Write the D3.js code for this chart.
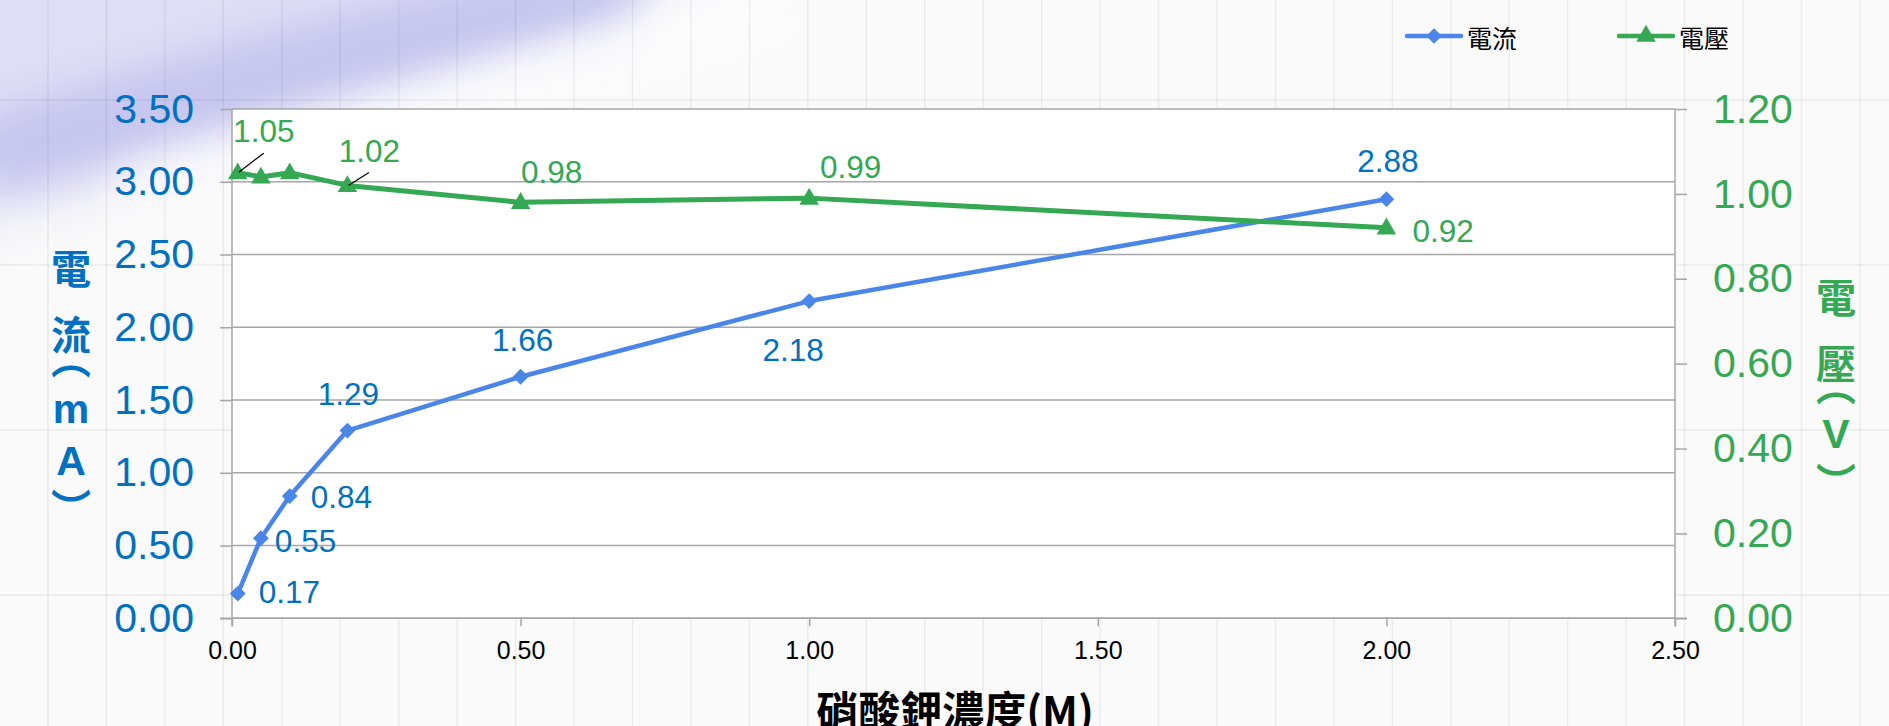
<!DOCTYPE html>
<html>
<head>
<meta charset="utf-8">
<script src="https://cdn.jsdelivr.net/npm/d3@7"></script>
<style>
  html, body { margin: 0; padding: 0; background: #fafafa; }
  svg { display: block; }
</style>
</head>
<body>
<svg id="chart" width="1889" height="726"></svg>
<script>
// ---------- data ----------
const concentrations = [0.01, 0.05, 0.1, 0.2, 0.5, 1.0, 2.0];
const currentValues  = [0.17, 0.55, 0.84, 1.29, 1.66, 2.18, 2.88];
const voltageValues  = [1.05, 1.04, 1.05, 1.02, 0.98, 0.99, 0.92];
const voltageLabelShown = [true, false, false, true, true, true, true];
const xTickValues     = [0, 0.5, 1.0, 1.5, 2.0, 2.5];
const currentTicks    = [0, 0.5, 1.0, 1.5, 2.0, 2.5, 3.0, 3.5];
const voltageTicks    = [0, 0.2, 0.4, 0.6, 0.8, 1.0, 1.2];
const seriesNames     = ["電流", "電壓"];
const xTitle = "硝酸鉀濃度(M)";
const leftTitleChars  = ["電", "流", "︵", "m", "A", "︶"];
const rightTitleChars = ["電", "壓", "︵", "V", "︶"];

// ---------- layout / style ----------
const W = 1889, H = 726;
const plot = { left: 232, right: 1675, top: 109, bottom: 618.3 };
const BLUE_LINE = "#4a86e8", BLUE_TEXT = "#0070c0", GREEN = "#34a853";
const GRID = "#a6a6a6";

// label placement (offsets from the point), [dx, dy, anchor]
const currentLabelPos = [[21, -2, "start"], [14, 3, "start"], [21, 1, "start"], [1, -37, "middle"], [2, -37, "middle"], [-16, 49, "middle"], [1.5, -38, "middle"]];
const voltageLabelPos = [[26, -41.5, "middle"], null, null, [22, -34, "middle"], [31, -30, "middle"], [41.5, -31.5, "middle"], [56.7, 3, "middle"]];
const voltageLeaders  = [[1, -0.5, 26, -19.5], null, null, [1, 0, 21.5, -13], null, null, null];
const leftTitleY  = [267, 333, 357, 409, 461, 506];
const rightTitleY = [296, 362, 384, 434, 480];

const svg = d3.select("#chart");
const defs = svg.append("defs");

// ---------- background (spreadsheet + purple blur) ----------
svg.append("rect").attr("width", W).attr("height", H).attr("fill", "#fafafa");

const f1 = defs.append("filter").attr("id", "blur1").attr("x", "-50%").attr("y", "-50%").attr("width", "200%").attr("height", "200%");
f1.append("feGaussianBlur").attr("stdDeviation", 30);
const f2 = defs.append("filter").attr("id", "blur2").attr("x", "-50%").attr("y", "-50%").attr("width", "200%").attr("height", "200%");
f2.append("feGaussianBlur").attr("stdDeviation", 20);

svg.append("path")
  .attr("d", "M-60,-60 L780,-60 L340,110 L-60,230 Z")
  .attr("fill", "#e0def5").attr("filter", "url(#blur1)");
svg.append("path")
  .attr("d", "M10,150 L230,85 L600,-10")
  .attr("fill", "none").attr("stroke", "#c4c4ef").attr("stroke-width", 80)
  .attr("stroke-linecap", "round").attr("filter", "url(#blur2)").attr("opacity", 0.95);
svg.append("path")
  .attr("d", "M120,190 L380,115 L780,0")
  .attr("fill", "none").attr("stroke", "#ffffff").attr("stroke-width", 34)
  .attr("filter", "url(#blur2)").attr("opacity", 0.75);

const sheet = svg.append("g").attr("stroke", "rgba(0,0,0,0.06)").attr("stroke-width", 1.5);
d3.range(48, W, 58.45).forEach(x => sheet.append("line").attr("x1", x).attr("x2", x).attr("y1", 0).attr("y2", H));
[100, 265, 430, 595].forEach(y => sheet.append("line").attr("x1", 0).attr("x2", W).attr("y1", y).attr("y2", y));

// ---------- scales ----------
const x = d3.scaleLinear().domain([0, 2.5]).range([plot.left, plot.right]);
const yL = d3.scaleLinear().domain([0, 3.5]).range([plot.bottom, plot.top]);
const yR = d3.scaleLinear().domain([0, 1.2]).range([plot.bottom, plot.top]);

// plot area
svg.append("rect").attr("x", plot.left).attr("y", plot.top)
  .attr("width", plot.right - plot.left).attr("height", plot.bottom - plot.top).attr("fill", "#ffffff");

// gridlines
svg.append("g").selectAll("line").data(currentTicks).join("line")
  .attr("x1", plot.left).attr("x2", plot.right)
  .attr("y1", d => yL(d)).attr("y2", d => yL(d))
  .attr("stroke", GRID).attr("stroke-width", 1.5);

// axes
const fmt = d3.format(".2f");
const tickFont = "41px 'Liberation Sans', Arial, sans-serif";
const gL = svg.append("g").attr("transform", `translate(${plot.left},0)`)
  .call(d3.axisLeft(yL).tickValues(currentTicks).tickFormat(fmt).tickSize(12).tickPadding(26));
gL.selectAll("text").attr("fill", BLUE_TEXT).style("font", tickFont);

const gR = svg.append("g").attr("transform", `translate(${plot.right},0)`)
  .call(d3.axisRight(yR).tickValues(voltageTicks).tickFormat(fmt).tickSize(12).tickPadding(26));
gR.selectAll("text").attr("fill", GREEN).style("font", tickFont);

const gB = svg.append("g").attr("transform", `translate(0,${plot.bottom})`)
  .call(d3.axisBottom(x).tickValues(xTickValues).tickFormat(fmt).tickSize(8));
gB.selectAll("text").attr("fill", "#000").attr("y", 31.7).attr("dy", "0.35em")
  .style("font", "25px 'Liberation Sans', Arial, sans-serif");

[gL, gR, gB].forEach(g => {
  g.select(".domain").remove();
  g.selectAll(".tick line").attr("stroke", GRID).attr("stroke-width", 1.5);
});

// axis lines
const axisLines = svg.append("g").attr("stroke", GRID).attr("stroke-width", 1.5);
axisLines.append("line").attr("x1", plot.left).attr("x2", plot.left).attr("y1", plot.top).attr("y2", plot.bottom + 8);
axisLines.append("line").attr("x1", plot.right).attr("x2", plot.right).attr("y1", plot.top).attr("y2", plot.bottom + 8);
axisLines.append("line").attr("x1", plot.left - 12).attr("x2", plot.right + 12).attr("y1", plot.bottom).attr("y2", plot.bottom);

// ---------- series ----------
const currentData = concentrations.map((c, i) => ({ x: c, y: currentValues[i], i }));
const voltageData = concentrations.map((c, i) => ({ x: c, y: voltageValues[i], i }));

svg.append("path").datum(currentData)
  .attr("fill", "none").attr("stroke", BLUE_LINE).attr("stroke-width", 4.5).attr("stroke-linejoin", "round")
  .attr("d", d3.line().x(d => x(d.x)).y(d => yL(d.y)));
svg.append("path").datum(voltageData)
  .attr("fill", "none").attr("stroke", GREEN).attr("stroke-width", 5).attr("stroke-linejoin", "round")
  .attr("d", d3.line().x(d => x(d.x)).y(d => yR(d.y)));

const diamond = d3.symbol(d3.symbolSquare, 125);
const triangle = d3.symbol(d3.symbolTriangle, 165);

svg.append("g").selectAll("path").data(currentData).join("path")
  .attr("d", diamond).attr("fill", BLUE_LINE)
  .attr("transform", d => `translate(${x(d.x)},${yL(d.y)}) rotate(45)`);
svg.append("g").selectAll("path").data(voltageData).join("path")
  .attr("d", triangle).attr("fill", GREEN)
  .attr("transform", d => `translate(${x(d.x)},${yR(d.y) + 1})`);

// leaders
svg.append("g").selectAll("line").data(voltageData.filter(d => voltageLeaders[d.i])).join("line")
  .attr("x1", d => x(d.x) + voltageLeaders[d.i][0]).attr("y1", d => yR(d.y) + voltageLeaders[d.i][1])
  .attr("x2", d => x(d.x) + voltageLeaders[d.i][2]).attr("y2", d => yR(d.y) + voltageLeaders[d.i][3])
  .attr("stroke", "#000").attr("stroke-width", 1.2);

// data labels
const labelFont = "31.5px 'Liberation Sans', Arial, sans-serif";
svg.append("g").selectAll("text").data(currentData).join("text")
  .attr("x", d => x(d.x) + currentLabelPos[d.i][0])
  .attr("y", d => yL(d.y) + currentLabelPos[d.i][1])
  .attr("text-anchor", d => currentLabelPos[d.i][2])
  .attr("dominant-baseline", "central")
  .attr("fill", BLUE_TEXT).style("font", labelFont)
  .text(d => fmt(d.y));
svg.append("g").selectAll("text").data(voltageData.filter(d => voltageLabelShown[d.i])).join("text")
  .attr("x", d => x(d.x) + voltageLabelPos[d.i][0])
  .attr("y", d => yR(d.y) + voltageLabelPos[d.i][1])
  .attr("text-anchor", d => voltageLabelPos[d.i][2])
  .attr("dominant-baseline", "central")
  .attr("fill", GREEN).style("font", labelFont)
  .text(d => fmt(d.y));

// ---------- titles ----------
const cjkBold = "bold 40px 'Noto Sans CJK TC', 'Noto Sans CJK SC', sans-serif";
const latinBold = "bold 41px 'Liberation Sans', Arial, sans-serif";
function verticalTitle(chars, ys, cx, color) {
  const t = svg.append("text").attr("text-anchor", "middle").attr("dominant-baseline", "central").attr("fill", color);
  chars.forEach((c, i) => {
    t.append("tspan").attr("x", cx).attr("y", ys[i])
      .attr("dominant-baseline", "central")
      .style("font", /[A-Za-z]/.test(c) ? latinBold : cjkBold)
      .text(c);
  });
}
verticalTitle(leftTitleChars, leftTitleY, 71, BLUE_TEXT);
verticalTitle(rightTitleChars, rightTitleY, 1836, GREEN);

svg.append("text").attr("x", 955).attr("y", 727)
  .attr("text-anchor", "middle").attr("fill", "#000")
  .style("font", "bold 42px 'Noto Sans CJK TC', sans-serif")
  .text(xTitle);

// ---------- legend ----------
const legend = svg.append("g");
const legendItems = [
  { name: seriesNames[0], color: BLUE_LINE, x0: 1407, sym: "diamond" },
  { name: seriesNames[1], color: GREEN, x0: 1619, sym: "triangle" }
];
legendItems.forEach(it => {
  legend.append("line").attr("x1", it.x0).attr("x2", it.x0 + 54).attr("y1", 36).attr("y2", 36)
    .attr("stroke", it.color).attr("stroke-width", 4.5).attr("stroke-linecap", "round");
  legend.append("path")
    .attr("d", it.sym === "diamond" ? d3.symbol(d3.symbolSquare, 120)() : d3.symbol(d3.symbolTriangle, 165)())
    .attr("fill", it.color)
    .attr("transform", `translate(${it.x0 + 27},36) ${it.sym === "diamond" ? "rotate(45)" : ""}`);
  legend.append("text").attr("x", it.x0 + 60).attr("y", 37)
    .attr("dominant-baseline", "central").attr("fill", "#000")
    .style("font", "25px 'Noto Sans CJK TC', sans-serif").text(it.name);
});
</script>
</body>
</html>
